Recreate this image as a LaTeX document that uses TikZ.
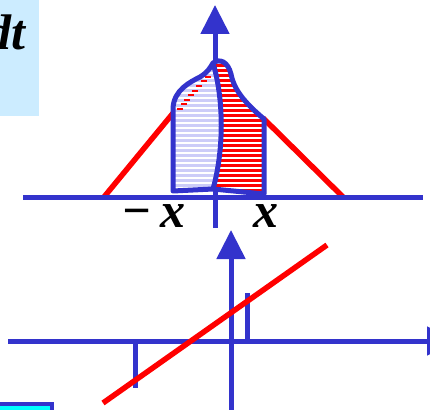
\documentclass[tikz,border=0pt]{standalone}
\usepackage{fontspec}
\setmainfont{Liberation Serif}
\usetikzlibrary{arrows.meta}
\definecolor{axblue}{RGB}{51,51,204}
\definecolor{lav}{RGB}{204,204,248}
\definecolor{skybox}{RGB}{204,236,255}
\definecolor{cyanbox}{RGB}{0,255,255}
\definecolor{hotred}{RGB}{255,0,0}
\begin{document}
\begin{tikzpicture}[x=1pt,y=-1pt,
  axis/.style={draw=axblue,line width=5pt},
  arrowaxis/.style={axis,-{Triangle[length=29pt,width=28pt]}},
  redline/.style={draw=hotred,line width=5.5pt},
  outline/.style={draw=axblue,line width=5pt,line join=round},
  hatch/.style={draw=white,line width=1.3pt},
  lab/.style={font=\fontsize{50}{54}\selectfont\bfseries\itshape,inner sep=0pt}]
\useasboundingbox (0,0) rectangle (430,409);
\clip (0,0) rectangle (430,409);
% top-left box
\fill[skybox] (-2,-2) rectangle (39,116);
\node[lab,anchor=base east] (dt) at (26,50) {dt};
% red triangle
\coordinate (tl0) at (104,197);
\coordinate (tl1) at (174,112);
\coordinate (tr0) at (343,197);
\coordinate (tr1) at (263,118);
\draw[redline] (tl0) -- (tl1);
\draw[redline] (tr0) -- (tr1);
% top axes
\coordinate (hx0) at (23,197);
\coordinate (hx1) at (423,197);
\coordinate (vy0) at (215,228);
\coordinate (vy1) at (215,5);
\draw[axis] (hx0) -- (hx1);
\draw[arrowaxis] (vy0) -- (vy1);
% regions
\coordinate (P) at (213,63);
\coordinate (B) at (213,189);
\coordinate (L0) at (173,191);
\coordinate (L1) at (173,108);
\coordinate (R0) at (264,194);
\coordinate (R1) at (264,119);
\begin{scope}
\clip (L0) -- (L1) .. controls (174,90) and (190,82) .. (200,77)
  .. controls (208,72) and (210,68) .. (P)
  .. controls (224,100) and (224,150) .. (B) -- cycle;
\fill[lav] (150,50) rectangle (280,200);
\foreach \yy in {63,68,...,198} \draw[hatch] (150,\yy) -- (280,\yy);
\foreach \xa/\ya in {177/109,181/104,184/100,188/95,192/91,196/86,201/81,205/77}
  \draw[hotred,line width=1.3pt] (\xa,\ya) -- (\xa+6,\ya);
\end{scope}
\begin{scope}
\clip (P) .. controls (220,58) and (228,62) .. (231,74)
  .. controls (234,90) and (245,103) .. (R1) -- (R0) -- (B)
  .. controls (224,150) and (224,100) .. (P);
\fill[hotred] (150,50) rectangle (280,200);
\foreach \yy in {63,68,...,198} \draw[hatch] (150,\yy) -- (280,\yy);
\end{scope}
\draw[outline] (L0) -- (L1) .. controls (174,90) and (190,82) .. (200,77)
  .. controls (208,72) and (210,68) .. (P)
  .. controls (220,58) and (228,62) .. (231,74)
  .. controls (234,90) and (245,103) .. (R1) -- (R0) -- (B) -- cycle;
\draw[outline] (P) .. controls (224,100) and (224,150) .. (B);
% labels
\node[lab,anchor=base] (minus) at (137,227) {−};
\node[lab,anchor=base] (xl) at (173,227) {x};
\node[lab,anchor=base] (xr) at (266,227) {x};
% bottom panel
\coordinate (bh0) at (8,341);
\coordinate (bh1) at (456,341);
\coordinate (bv0) at (231,415);
\coordinate (bv1) at (231,230);
\draw[arrowaxis] (bh0) -- (bh1);
\draw[arrowaxis] (bv0) -- (bv1);
\coordinate (t1a) at (135,341);
\coordinate (t1b) at (135,388);
\coordinate (t2a) at (247,341);
\coordinate (t2b) at (247,293);
\draw[axis] (t1a) -- (t1b);
\draw[axis] (t2a) -- (t2b);
\coordinate (r0) at (103,403);
\coordinate (r1) at (327,245);
\draw[redline] (r0) -- (r1);
% bottom-left box
\draw[axblue,line width=4pt,fill=cyanbox] (-5,404) rectangle (52,430);
\end{tikzpicture}
\end{document}
